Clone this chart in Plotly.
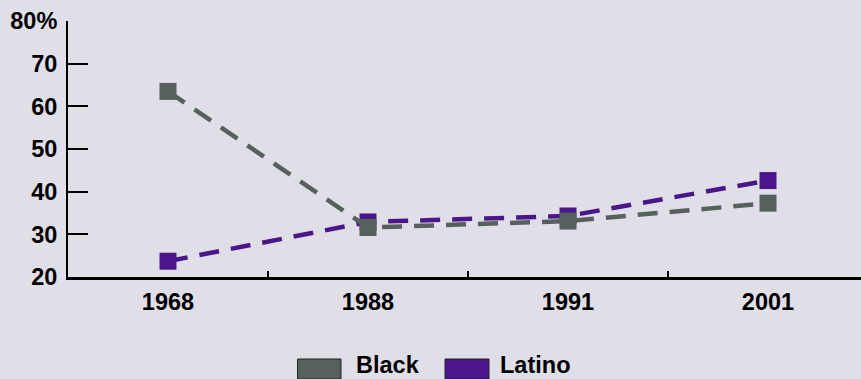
import plotly.graph_objects as go

# Share of students in intensely segregated schools, by group
years = ["1968", "1988", "1991", "2001"]
black = [63.5, 31.6, 33.1, 37.3]
latino = [23.7, 32.9, 34.3, 42.6]

y_ticks = [20, 30, 40, 50, 60, 70, 80]
y_tick_text = ["20", "30", "40", "50", "60", "70", "80%"]

BG = "#e0dfe8"
BLACK_COL = "#56605c"
LATINO_COL = "#4b168a"
FONT = "Liberation Sans, Arial, sans-serif"
FS = 23.5

W, H = 861, 379
ML, MT, MB = 68, 21, 102
PW = 793            # plot width (runs past the right edge of the page)
PH = H - MT - MB    # plot height


def px_x(px):
    return (px - ML) / PW


def px_y(py):
    return (H - MB - py) / PH


fig = go.Figure()

for name, vals, col in [("Latino", latino, LATINO_COL), ("Black", black, BLACK_COL)]:
    fig.add_trace(go.Scatter(
        x=years, y=vals, name=name, mode="lines+markers",
        line=dict(color=col, width=4.5, dash="20px,12px"),
        marker=dict(symbol="square", size=17, color=col, line=dict(width=0)),
        cliponaxis=False, showlegend=False,
    ))

# Legend drawn as swatches + labels under the axis
legend_items = [("Black", BLACK_COL, 297.5, 341, 355), ("Latino", LATINO_COL, 445, 489, 499)]
for label, col, x0, x1, tx in legend_items:
    fig.add_shape(type="rect", xref="paper", yref="paper",
                  x0=px_x(x0), x1=px_x(x1), y0=px_y(379), y1=px_y(359),
                  fillcolor=col, line=dict(color="#222222", width=1))
    fig.add_annotation(xref="paper", yref="paper", x=px_x(tx), y=px_y(379),
                       xanchor="left", yanchor="bottom", showarrow=False, borderpad=0,
                       text=label, font=dict(family=FONT, size=FS, color="#000000", weight="bold"))

fig.update_xaxes(
    type="category", range=[-0.5, -0.5 + PW / 200], tickson="boundaries",
    ticks="inside", ticklen=6, tickwidth=2, tickcolor="#000000",
    showline=True, linecolor="#000000", linewidth=2.5, showgrid=False, zeroline=False,
    tickfont=dict(family=FONT, size=FS, color="#000000", weight="bold"),
    ticklabelstandoff=2,
)
fig.update_yaxes(
    range=[20, 80], tickvals=y_ticks, ticktext=y_tick_text,
    ticks="inside", ticklen=20, tickwidth=2, tickcolor="#000000",
    showline=True, linecolor="#000000", linewidth=2, showgrid=False, zeroline=False,
    tickfont=dict(family=FONT, size=FS, color="#000000", weight="bold"),
    ticklabelstandoff=4,
)

fig.update_layout(
    width=W, height=H, autosize=False,
    margin=dict(l=ML, r=W - ML - PW, t=MT, b=MB, pad=0),
    paper_bgcolor=BG, plot_bgcolor=BG,
    showlegend=False,
)

fig.write_html("out.html", config={"displayModeBar": False})
